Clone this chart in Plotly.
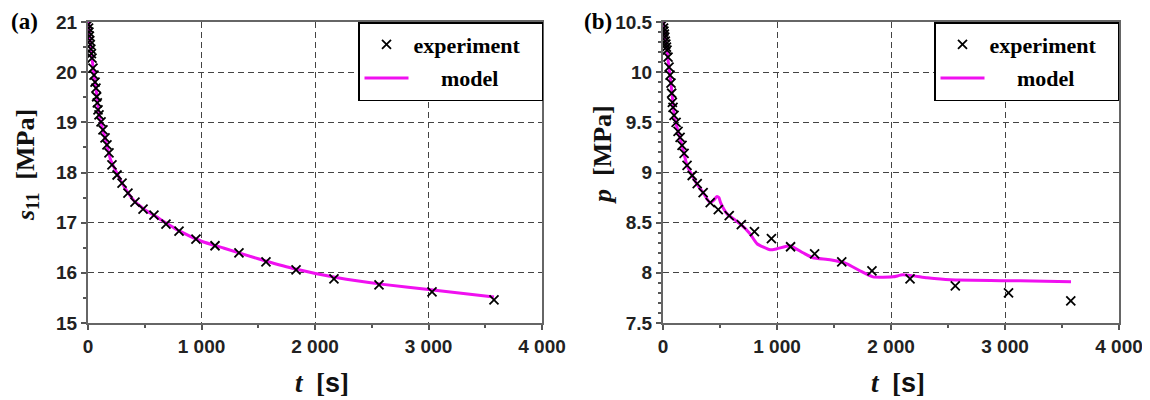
import plotly.graph_objects as go

# ---------------- data ----------------
t_exp = [2, 5, 8, 12, 16, 20, 25, 30, 35, 44, 53, 62, 70, 76, 82, 88, 97, 115, 132,
         150, 167, 185, 211, 256, 300, 352, 414, 485, 581, 687, 802, 951, 1119,
         1330, 1568, 1833, 2167, 2564, 3031, 3577]
s11_exp = [20.95, 20.88, 20.80, 20.72, 20.63, 20.55, 20.46, 20.37, 20.28, 20.08, 19.94,
           19.80, 19.68, 19.51, 19.39, 19.25, 19.15, 19.01, 18.85,
           18.69, 18.55, 18.39, 18.15, 17.95, 17.79, 17.59, 17.41, 17.27, 17.15,
           16.97, 16.83, 16.67, 16.54, 16.40, 16.22, 16.06, 15.88, 15.76, 15.62, 15.46]
p_exp = [10.48, 10.44, 10.41, 10.38, 10.35, 10.31, 10.28, 10.25, 10.22, 10.15, 10.05,
         9.97, 9.89, 9.79, 9.70, 9.65, 9.57, 9.50, 9.41,
         9.35, 9.27, 9.19, 9.07, 8.97, 8.89, 8.80, 8.70, 8.63, 8.57,
         8.48, 8.41, 8.34, 8.26, 8.19, 8.11, 8.02, 7.94, 7.87, 7.80, 7.72]

t_model_a = [0, 10, 20, 35, 50, 70, 100, 150, 200, 300, 400, 500, 600, 800, 1000,
             1200, 1500, 1800, 2200, 2600, 3000, 3577]
s11_model = [21.3, 20.85, 20.6, 20.28, 20.0, 19.68, 19.12, 18.69, 18.25, 17.79, 17.45,
             17.26, 17.12, 16.84, 16.63, 16.49, 16.28, 16.09, 15.90, 15.77, 15.67, 15.52]

t_model_b = [0, 10, 20, 35, 50, 70, 100, 132, 167, 211, 256, 300, 352, 412, 450, 470,
             490, 505, 561, 675, 763, 825, 939, 1000, 1114, 1228, 1316, 1465, 1614, 1728,
             1842, 2018, 2105, 2316, 2518, 3132, 3579]
p_model = [10.6, 10.42, 10.33, 10.22, 10.06, 9.89, 9.56, 9.41, 9.27, 9.07, 8.97, 8.88,
           8.80, 8.70, 8.73, 8.76, 8.75, 8.70, 8.59, 8.49, 8.39, 8.29, 8.23, 8.24, 8.27,
           8.20, 8.15, 8.13, 8.09, 8.02, 7.96, 7.96, 7.98, 7.95, 7.93, 7.92, 7.91]

x_tickvals = [0, 1000, 2000, 3000, 4000]
x_ticktext = ["0", "1 000", "2 000", "3 000", "4 000"]
ya_tickvals = [15, 16, 17, 18, 19, 20, 21]
yb_tickvals = [7.5, 8, 8.5, 9, 9.5, 10, 10.5]
yb_ticktext = ["7.5", "8", "8.5", "9", "9.5", "10", "10.5"]

# ---------------- figure ----------------
OFF = 8  # page body margin
W, H = 1150 - OFF, 400 - OFF
SERIF = "Liberation Serif, Times New Roman, serif"
SANS = "Liberation Sans, Arial, sans-serif"
MAGENTA = "#f010f0"
NB = "\u00a0"

fig = go.Figure()

def add_panel(t_m, v_m, t_e, v_e, xa, ya, legend):
    fig.add_trace(go.Scatter(
        x=t_m, y=v_m, mode="lines", name=NB * 5 + "model",
        line=dict(color=MAGENTA, width=3, shape="spline", smoothing=0.5),
        xaxis=xa, yaxis=ya, legend=legend,
        legendrank=2, legendgroup=legend + "m"))
    fig.add_trace(go.Scatter(
        x=t_e, y=v_e, mode="markers", name="experiment" + NB * 3,
        marker=dict(symbol="x-thin", size=9, color="black",
                    line=dict(color="black", width=1.8)),
        xaxis=xa, yaxis=ya, legend=legend, legendrank=1, legendgroup=legend + "e"))

add_panel(t_model_a, s11_model, t_exp, s11_exp, "x", "y", "legend")
add_panel(t_model_b, p_model, t_exp, p_exp, "x2", "y2", "legend2")

# reference-pixel -> paper fraction
px = lambda v: (v - OFF) / W
py = lambda v: 1 - (v - OFF) / H

axis_common = dict(
    automargin=False,
    showline=True, linecolor="#666666", linewidth=2, mirror=True,
    ticks="outside", ticklen=5, tickwidth=1.5, tickcolor="#555555",
    showgrid=True, gridcolor="#444444", griddash="6px,4px", gridwidth=1.2,
    zeroline=False,
    tickfont=dict(family=SANS, size=19, color="#222222", weight="bold"),
)

xcommon = dict(axis_common, range=[0, 4000], tickmode="array",
               tickvals=x_tickvals, ticktext=x_ticktext,
               minor=dict(tickvals=[500, 1500, 2500, 3500], ticks="outside",
                          ticklen=3, tickcolor="#555555", showgrid=False))

legend_common = dict(xanchor="right", yanchor="top",
                     bgcolor="white", bordercolor="black", borderwidth=1.5,
                     font=dict(family=SERIF, size=22, color="black", weight="bold"),
                     tracegroupgap=2, itemwidth=44)

fig.update_layout(
    width=W, height=H, margin=dict(l=0, r=0, t=0, b=0, autoexpand=False),
    paper_bgcolor="white", plot_bgcolor="white",
    xaxis=dict(xcommon, domain=[px(88), px(542)], anchor="y"),
    yaxis=dict(axis_common, domain=[py(323), py(22)], anchor="x", range=[15, 21],
               tickmode="array", tickvals=ya_tickvals,
               minor=dict(dtick=0.5, tick0=15, ticks="outside", ticklen=3,
                          tickcolor="#555555", showgrid=False)),
    xaxis2=dict(xcommon, domain=[px(663), px(1119)], anchor="y2"),
    yaxis2=dict(axis_common, domain=[py(323), py(22)], anchor="x2", range=[7.5, 10.5],
                tickmode="array", tickvals=yb_tickvals, ticktext=yb_ticktext,
                minor=dict(dtick=0.1, tick0=7.5, ticks="outside", ticklen=3,
                           tickcolor="#555555", showgrid=False)),
    legend=dict(legend_common, x=px(543), y=py(22)),
    legend2=dict(legend_common, x=px(1119), y=py(22)),
    showlegend=True,
)

title_font = dict(family=SERIF, size=26, color="#111111", weight="bold")
ann = [
    dict(x=px(24), y=py(22), text="(a)", font=dict(family=SERIF, size=23, color="black", weight="bold")),
    dict(x=px(598), y=py(22), text="(b)", font=dict(family=SERIF, size=23, color="black", weight="bold")),
    dict(x=px(27), y=py(165), text="<i>s</i><sub>11</sub>" + NB * 2 + "[MPa]", textangle=-90, font=title_font),
    dict(x=px(602), y=py(155), text="<i>p</i>" + NB * 2 + "[MPa]", textangle=-90, font=title_font),
    dict(x=px(322), y=py(383),
         text="<i>t</i>" + NB * 2 + "[<span style='font-family:Liberation Sans'>s</span>]",
         font=dict(family=SERIF, size=27, color="#111111", weight="bold")),
    dict(x=px(898), y=py(383),
         text="<i>t</i>" + NB * 2 + "[<span style='font-family:Liberation Sans'>s</span>]",
         font=dict(family=SERIF, size=27, color="#111111", weight="bold")),
]
for a in ann:
    a.update(xref="paper", yref="paper", showarrow=False, xanchor="center", yanchor="middle")
fig.update_layout(annotations=ann)

fig.write_html("out.html")
